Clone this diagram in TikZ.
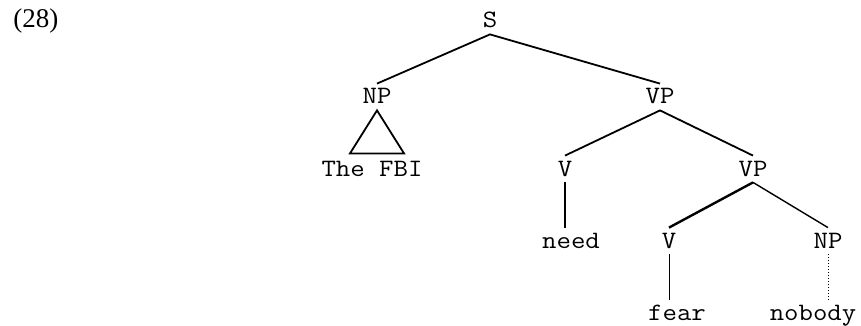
\documentclass[tikz,border=0pt]{standalone}
\usepackage{fontspec}
\setmainfont{Liberation Serif}
\setmonofont{Latin Modern Mono}[FakeStretch=1.12]
\usepackage{tikz}

\begin{document}
\begin{tikzpicture}[x=0.5pt, y=-0.5pt,
   cat/.style={
      font = \fontsize{12.5}{14}\ttfamily,
      anchor = base,
      inner xsep = 1pt,
      inner ysep = 3pt,
      text height = 7pt,
      text depth = 0pt
   },
   branch/.style={
      line width = .9pt
   }]
   \useasboundingbox (0,0) rectangle (861,326);

   \node[anchor=base west, inner sep=0pt, font=\fontsize{13.5}{15}\selectfont] (num) at (13,28) {(28)};

   \node[cat] (s) at (490,28) {S};
   \node[cat] (np) at (377,104) {NP};
   \node[cat] (vp) at (660,104) {VP};
   \node[cat] (fbi) at (372,176) {The FBI};
   \node[cat] (v) at (565,176) {V};
   \node[cat] (vpb) at (753,176) {VP};
   \node[cat] (need) at (571,248) {need};
   \node[cat] (vb) at (669,248) {V};
   \node[cat] (npb) at (828,248) {NP};
   \node[cat] (fear) at (677,320) {fear};
   \node[cat] (nobody) at (813,320) {nobody};

   \draw[branch] (np.north) -- (s.south) -- (vp.north);
   \draw[branch] (np.south) -- ++(-27,43) -- ++(54,0) -- cycle;
   \draw[branch] (v.north) -- (vp.south) -- (vpb.north);
   \draw[branch] (v.south) -- (v.south |- need.north);
   \draw[branch, line width=1.2pt] (vb.north) -- (vpb.south);
   \draw[branch, line width=.7pt] (vpb.south) -- (npb.north);
   \draw[branch, line width=.5pt] (vb.south) -- (vb.south |- fear.north);
   \draw[line width=.5pt, densely dotted] (npb.south) -- (npb.south |- nobody.north);

\end{tikzpicture}
\end{document}
